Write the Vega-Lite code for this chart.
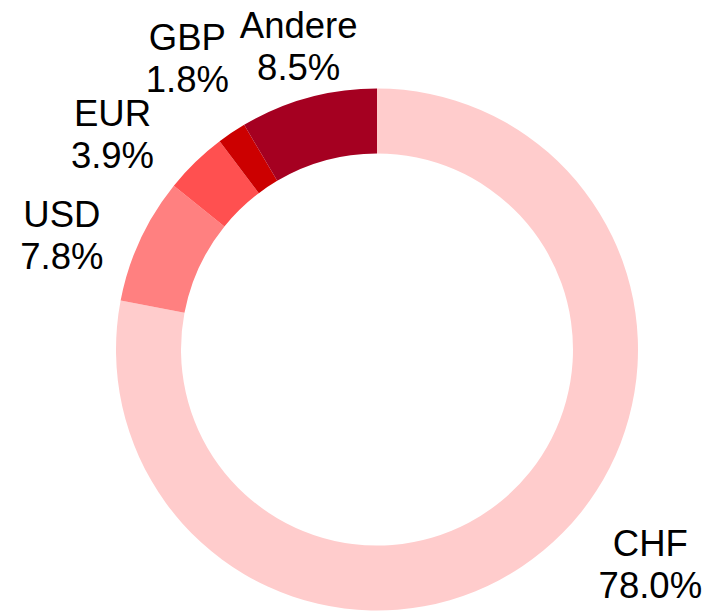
{
  "$schema": "https://vega.github.io/schema/vega-lite/v6.json",
  "width": 662,
  "height": 525,
  "autosize": {"type": "none"},
  "padding": {"left": 46, "top": 87, "right": 0, "bottom": 0},
  "background": "white",
  "config": {"view": {"stroke": null}},
  "data": {
    "values": [
      {"cur": "CHF", "value": 78.0, "rank": 1, "label": "CHF\n78.0%"},
      {"cur": "USD", "value": 7.8, "rank": 2, "label": "USD\n7.8%"},
      {"cur": "EUR", "value": 3.9, "rank": 3, "label": "EUR\n3.9%"},
      {"cur": "GBP", "value": 1.8, "rank": 4, "label": "GBP\n1.8%"},
      {"cur": "Andere", "value": 8.5, "rank": 5, "label": "Andere\n8.5%"}
    ]
  },
  "encoding": {
    "theta": {"field": "value", "type": "quantitative", "stack": true},
    "order": {"field": "rank", "type": "quantitative"}
  },
  "layer": [
    {
      "mark": {"type": "arc", "outerRadius": 261, "innerRadius": 196},
      "encoding": {
        "color": {
          "field": "cur",
          "type": "nominal",
          "scale": {
            "domain": ["CHF", "USD", "EUR", "GBP", "Andere"],
            "range": ["#FFCCCC", "#FF8080", "#FF5050", "#CC0000", "#A50021"]
          },
          "legend": null
        }
      }
    },
    {
      "mark": {"type": "text", "radius": 341, "dx": 56, "dy": -67, "font": "Liberation Sans", "fontSize": 36.5, "lineHeight": 42, "lineBreak": "\n", "align": "center", "baseline": "middle", "color": "black"},
      "encoding": {"text": {"condition": {"test": "datum.cur === 'CHF'", "field": "label", "type": "nominal"}, "value": ""}}
    },
    {
      "mark": {"type": "text", "radius": 333, "dx": -13, "dy": 6, "font": "Liberation Sans", "fontSize": 36.5, "lineHeight": 42, "lineBreak": "\n", "align": "center", "baseline": "middle", "color": "black"},
      "encoding": {"text": {"condition": {"test": "datum.cur === 'USD'", "field": "label", "type": "nominal"}, "value": ""}}
    },
    {
      "mark": {"type": "text", "radius": 337, "dx": -30, "dy": 8, "font": "Liberation Sans", "fontSize": 36.5, "lineHeight": 42, "lineBreak": "\n", "align": "center", "baseline": "middle", "color": "black"},
      "encoding": {"text": {"condition": {"test": "datum.cur === 'EUR'", "field": "label", "type": "nominal"}, "value": ""}}
    },
    {
      "mark": {"type": "text", "radius": 346, "dx": 3, "dy": -23, "font": "Liberation Sans", "fontSize": 36.5, "lineHeight": 42, "lineBreak": "\n", "align": "center", "baseline": "middle", "color": "black"},
      "encoding": {"text": {"condition": {"test": "datum.cur === 'GBP'", "field": "label", "type": "nominal"}, "value": ""}}
    },
    {
      "mark": {"type": "text", "radius": 312, "dx": 4, "dy": -22, "font": "Liberation Sans", "fontSize": 36.5, "lineHeight": 42, "lineBreak": "\n", "align": "center", "baseline": "middle", "color": "black"},
      "encoding": {"text": {"condition": {"test": "datum.cur === 'Andere'", "field": "label", "type": "nominal"}, "value": ""}}
    }
  ]
}
